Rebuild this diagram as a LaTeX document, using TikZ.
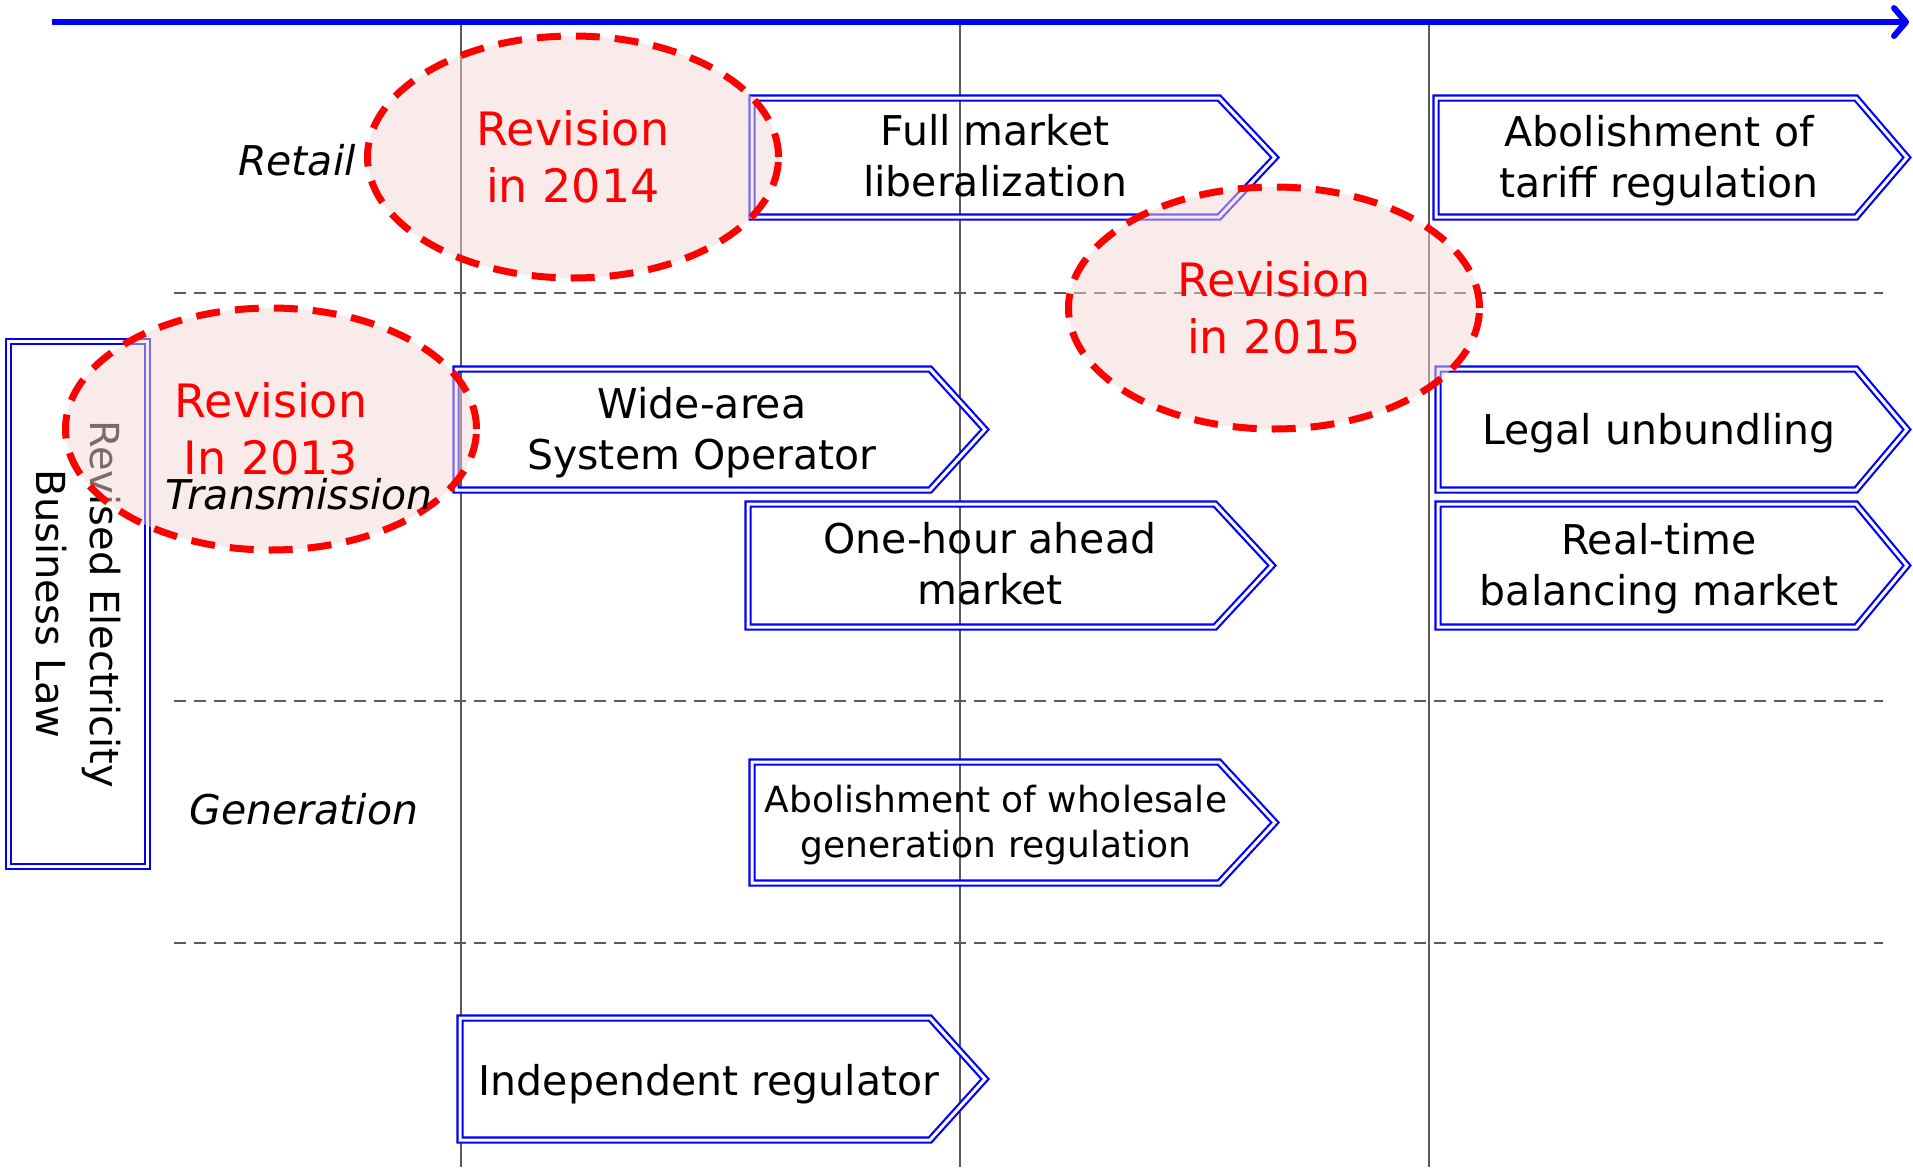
\documentclass[tikz,border=0pt]{standalone}
\usepackage{fontspec}
\setmainfont{DejaVu Sans}
\usetikzlibrary{arrows.meta,shapes.geometric}
\definecolor{pinkfill}{RGB}{245,215,215}
\definecolor{gridgray}{RGB}{90,90,90}
\tikzset{
  boxline/.style={draw=blue, line width=2.2pt, double=white, double distance=3pt},
  boxtext/.style={font=\fontsize{41}{51}\selectfont, align=center, inner sep=0pt},
  smalltext/.style={font=\fontsize{36}{45}\selectfont, align=center, inner sep=0pt},
  revision/.style={ellipse, draw=red, line width=7pt, dash pattern=on 24pt off 15pt,
    fill=pinkfill, fill opacity=0.5, draw opacity=1, text opacity=1, text=red,
    font=\fontsize{46}{57}\selectfont, align=center, inner sep=0pt,
    minimum width=411pt, minimum height=242pt},
  rowlabel/.style={font=\fontsize{41}{49}\selectfont\itshape, inner sep=0pt},
  vline/.style={draw=gridgray, line width=2.5pt},
  hline/.style={draw=gridgray, line width=2.2pt, dash pattern=on 12pt off 8pt},
  timeline/.style={draw=blue, line width=6pt, -{Straight Barb[length=12pt,width=28pt,round]}},
}
\newcommand\sigbox[5]{\draw[boxline] (#1,#2) -- (#5,#2) -- (#3,{(#2+#4)/2}) -- (#5,#4) -- (#1,#4) -- cycle;}
\begin{document}
\begin{tikzpicture}[x=1pt,y=-1pt]
\useasboundingbox (0,0) rectangle (1913,1167);
% horizontal dashed separators
\foreach \yy in {293,701,943} \draw[hline] (174,\yy) -- (1883,\yy);
% vertical year lines
\foreach \xx in {461,960,1429} \draw[vline] (\xx,22) -- (\xx,1167);
% timeline
\coordinate (tl0) at (52,22);
\coordinate (tl1) at (1909,22);
\draw[timeline] (tl0) -- (tl1);
% arrow boxes
\sigbox{752}{98}{1275}{217}{1219}
\sigbox{1436}{98}{1907}{217}{1856}
\sigbox{456}{369}{985}{490}{930}
\sigbox{1438}{369}{1907}{490}{1856}
\sigbox{748}{504}{1272}{627}{1215}
\sigbox{1438}{504}{1907}{627}{1856}
\sigbox{752}{762}{1275}{883}{1219}
\sigbox{460}{1018}{985}{1140}{930}
\node[boxtext] (fml) at (995,156) {Full market\\liberalization};
\node[boxtext] (aotr) at (1659,161) {Abolishment of\\tariff regulation};
\node[boxtext] (waso) at (702,433) {Wide-area\\System Operator};
\node[boxtext] (lu) at (1659,433) {Legal unbundling};
\node[boxtext] (oham) at (990,564) {One-hour ahead\\market};
\node[boxtext] (rtbm) at (1659,569) {Real-time\\balancing market};
\node[smalltext] (awgr) at (996,825) {Abolishment of wholesale\\generation regulation};
\node[boxtext] (ir) at (709,1084) {Independent regulator};
% law box
\node[boxline, rotate=-90, minimum width=525pt, minimum height=139pt, align=center,
  inner sep=0pt, font=\fontsize{40}{54}\selectfont] (law) at (78,604)
  {Revised Electricity\\Business Law};
% row labels
\node[rowlabel] (retail) at (297,160) {Retail};
\node[rowlabel] (gen) at (304,809) {Generation};
% revisions
\node[revision] (r2014) at (573,157) {Revision\\in 2014};
\node[revision] (r2013) at (271,429) {Revision\\In 2013};
\node[revision] (r2015) at (1274,308) {Revision\\in 2015};
\node[rowlabel] (trans) at (299,494) {Transmission};
\end{tikzpicture}
\end{document}
